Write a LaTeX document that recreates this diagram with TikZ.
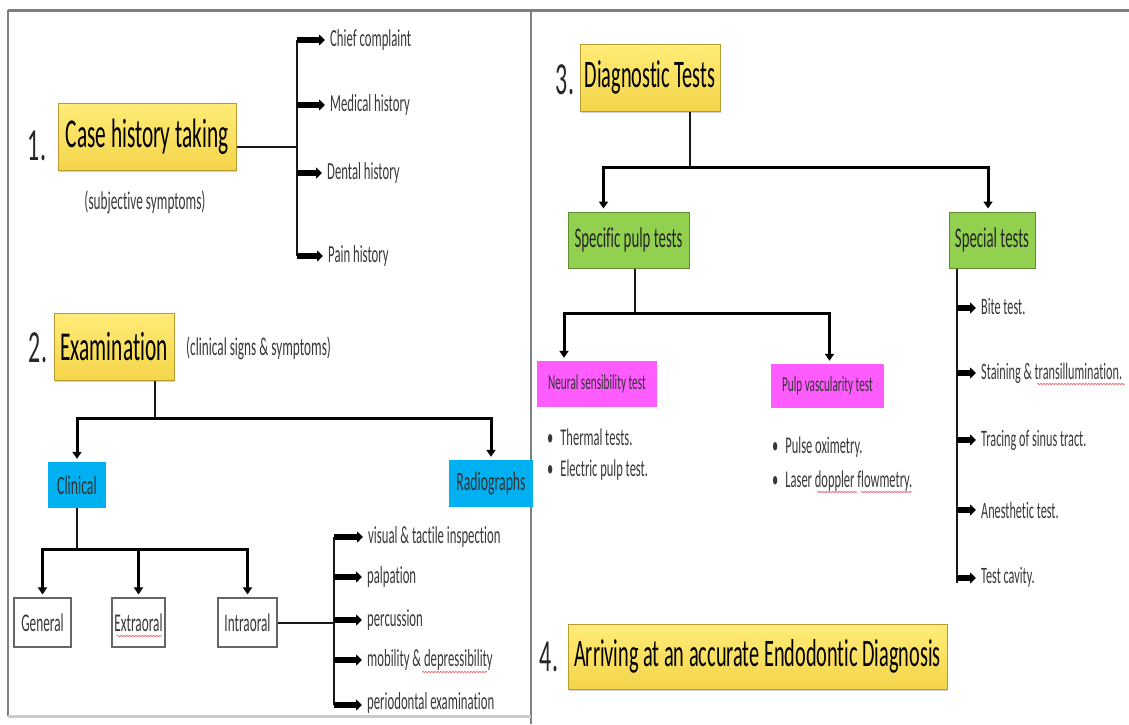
\documentclass[tikz,border=0pt]{standalone}
\usepackage{fontspec}
\setmainfont{Carlito}[FakeStretch=0.52, Ligatures={NoCommon}]
\usetikzlibrary{arrows.meta,shadows,decorations.pathmorphing}
\definecolor{ylwt}{HTML}{FFEC78}
\definecolor{ylwb}{HTML}{F4D54A}
\definecolor{ylwd}{HTML}{B89A30}
\definecolor{grn}{HTML}{92D050}
\definecolor{grnd}{HTML}{5E8C2E}
\definecolor{blu}{HTML}{00B0F0}
\definecolor{mag}{HTML}{FF5CFF}
\definecolor{txt}{HTML}{383838}
\definecolor{frame}{HTML}{7F7F7F}
\definecolor{squig}{HTML}{E8707A}
\begin{document}
\begin{tikzpicture}[x=1pt,y=-1pt,
  title/.style={draw=ylwd, line width=1pt, top color=ylwt, bottom color=ylwb, inner sep=0pt,
     font=\fontsize{41}{45}\selectfont, text=black,
     drop shadow={shadow xshift=1pt, shadow yshift=-2pt, opacity=0.35}},
  num/.style={inner sep=0pt, font=\fontsize{46}{50}\selectfont, text=black!85},
  gbox/.style={draw=grnd, line width=1pt, fill=grn, inner sep=0pt, font=\fontsize{28.5}{31}\selectfont, text=black!85},
  bbox/.style={fill=blu, inner sep=0pt, font=\fontsize{26.5}{29}\selectfont, text=black!80},
  mbox/.style={fill=mag, inner sep=0pt, font=\fontsize{21.5}{24}\selectfont, text=black!80},
  wbox/.style={draw=black!60, line width=1.2pt, fill=white, inner sep=0pt, font=\fontsize{25.5}{28}\selectfont, text=txt},
  item/.style={anchor=west, inner sep=0pt, font=\fontsize{24.5}{27}\selectfont, text=txt},
  note/.style={inner sep=0pt, font=\fontsize{25.5}{28}\selectfont, text=txt},
  bul/.style={anchor=west, inner sep=0pt, font=\fontsize{24}{27}\selectfont, text=txt},
  stem/.style={line width=2pt, draw=black!90},
  brace/.style={line width=2pt, draw=black!90},
  darrow/.style={line width=3pt, draw=black, line join=miter, -{Triangle[length=7pt,width=9pt]}, shorten >=3pt},
  barrow/.style={line width=5.5pt, draw=black, -{Triangle[length=6pt,width=11pt]}},
  wavy/.style={draw=squig, line width=0.8pt, decorate, decoration={snake, amplitude=0.7pt, segment length=3pt}}
]
\useasboundingbox (0,0) rectangle (1129,724);
% ---------- frame ----------
\draw[frame, line width=3pt] (8,10) -- (1129,10);
\draw[frame, line width=2pt] (8,10) -- (8,716);
\draw[frame, line width=2pt] (531,10) -- (531,724);
\draw[black!20, line width=3pt] (8,716) -- (531,716);

% ---------- 1. Case history ----------
\node[num] (n1) at (37,146) {1.};
\node[title, minimum width=178pt, minimum height=67pt] (ch) at (147,136.5) {Case history taking};
\node[note] (subj) at (145,202) {(subjective symptoms)};
\coordinate (cb) at (297,147);
\coordinate (cb1) at (297,40);
\coordinate (cb2) at (297,105);
\coordinate (cb3) at (297,173);
\coordinate (cb4) at (297,256);
\node[item] (ci1) at (330,40) {Chief complaint};
\node[item] (ci2) at (330,105) {Medical history};
\node[item] (ci3) at (327,173) {Dental history};
\node[item] (ci4) at (328,256) {Pain history};
\draw[stem] (ch.east |- cb) -- (cb);
\draw[brace] (cb1) -- (cb4);
\foreach \k in {1,2,3,4} \draw[barrow] (cb\k) -- ([xshift=-5pt]ci\k.west);

% ---------- 2. Examination ----------
\node[num] (n2) at (38,348) {2.};
\node[title, minimum width=120pt, minimum height=67pt] (ex) at (114,346.5) {Examination};
\node[note, anchor=west] (clin) at (186,348) {(clinical signs \& symptoms)};
\coordinate (e0) at (155,418);
\draw[stem] (ex.south -| e0) -- (e0);
\node[bbox, minimum width=58pt, minimum height=46pt] (cl) at (77,485) {Clinical};
\node[bbox, minimum width=84pt, minimum height=47pt] (rad) at (491,483.5) {Radiographs};
\draw[darrow] (e0) -| (cl.north);
\draw[darrow] (e0) -| (rad.north);
\coordinate (c0) at (77,549);
\draw[stem] (cl.south) -- (c0);
\node[wbox, minimum width=57pt, minimum height=49pt] (gen) at (42.5,622.5) {General};
\node[wbox, minimum width=53pt, minimum height=49pt] (ext) at (138.5,622.5) {Extraoral};
\node[wbox, minimum width=59pt, minimum height=49pt] (intra) at (247.5,622.5) {Intraoral};
\draw[darrow] (c0) -| (gen.north);
\draw[darrow] (c0) -| (ext.north);
\draw[darrow] (c0) -| (intra.north);
\draw[wavy] (117,636) -- (162,636);
% intraoral bracket
\coordinate (ib1) at (334,537);
\coordinate (ib2) at (334,577);
\coordinate (ib3) at (334,620);
\coordinate (ib4) at (334,660);
\coordinate (ib5) at (334,705);
\node[item] (ii1) at (368,537) {visual \& tactile inspection};
\node[item] (ii2) at (367,577) {palpation};
\node[item] (ii3) at (367,620) {percussion};
\node[item] (ii4) at (367,660) {mobility \& depressibility};
\node[item] (ii5) at (367,703) {periodontal examination};
\draw[stem] (intra.east) -- (intra.east -| ib1);
\draw[brace] (ib1) -- (ib5);
\foreach \k in {1,2,3,4,5} \draw[barrow] (ib\k) -- ([xshift=-5pt]ib\k -| ii\k.west);
\draw[wavy] (422,672) -- (487,672);

% ---------- 3. Diagnostic tests ----------
\node[num] (n3) at (565,80) {3.};
\node[title, minimum width=140pt, minimum height=67pt, font=\fontsize{39}{43}\selectfont] (dx) at (650,77.5) {Diagnostic Tests};
\coordinate (d0) at (690,167);
\draw[stem] (dx.south -| d0) -- (d0);
\node[gbox, minimum width=121pt, minimum height=56pt] (sp) at (628.5,240) {Specific pulp tests};
\node[gbox, minimum width=86pt, minimum height=56pt] (st) at (992,240) {Special tests};
\draw[darrow] (d0) -| ([xshift=-25pt]sp.north);
\draw[darrow] (d0) -| ([xshift=-4pt]st.north);
\coordinate (s0) at (635,313);
\draw[stem] (sp.south -| s0) -- (s0);
\node[mbox, minimum width=120pt, minimum height=46pt] (ns) at (597,384) {Neural sensibility test};
\node[mbox, minimum width=113pt, minimum height=44pt] (pv) at (827.5,386) {Pulp vascularity test};
\draw[darrow] (s0) -| ([xshift=-33pt]ns.north);
\draw[darrow] (s0) -| ([xshift=2pt]pv.north);
% bullets
\node[bul] (b1) at (547,437) {•\hspace{7pt}Thermal tests.};
\node[bul] (b2) at (547,470) {•\hspace{7pt}Electric pulp test.};
\node[bul] (b3) at (772,447) {•\hspace{7pt}Pulse oximetry.};
\node[bul] (b4) at (772,481) {•\hspace{7pt}Laser doppler flowmetry.};
\draw[wavy] (817,492) -- (857,492);
\draw[wavy] (861,492) -- (912,492);
% special tests bracket
\coordinate (sb1) at (957,308);
\coordinate (sb2) at (957,373);
\coordinate (sb3) at (957,440);
\coordinate (sb4) at (957,510);
\coordinate (sb5) at (957,578);
\coordinate (sbe) at (957,583);
\node[item, font=\fontsize{23.5}{26}\selectfont] (si1) at (981,306) {Bite test.};
\node[item, font=\fontsize{23.5}{26}\selectfont] (si2) at (981,373) {Staining \& transillumination.};
\node[item, font=\fontsize{23.5}{26}\selectfont] (si3) at (981,440) {Tracing of sinus tract.};
\node[item, font=\fontsize{23.5}{26}\selectfont] (si4) at (981,510) {Anesthetic test.};
\node[item, font=\fontsize{23.5}{26}\selectfont] (si5) at (981,577) {Test cavity.};
\draw[brace] (st.south -| sbe) -- (sbe);
\foreach \k in {1,2,3,4,5} \draw[barrow] (sb\k) -- ([xshift=-5pt]sb\k -| si\k.west);
\draw[wavy] (1037,384) -- (1125,384);

% ---------- 4. Arriving ----------
\node[num] (n4) at (549,657) {4.};
\node[title, minimum width=379pt, minimum height=65pt, font=\fontsize{39}{43}\selectfont] (ar) at (757.5,656.5) {Arriving at an accurate Endodontic Diagnosis};
\end{tikzpicture}
\end{document}
